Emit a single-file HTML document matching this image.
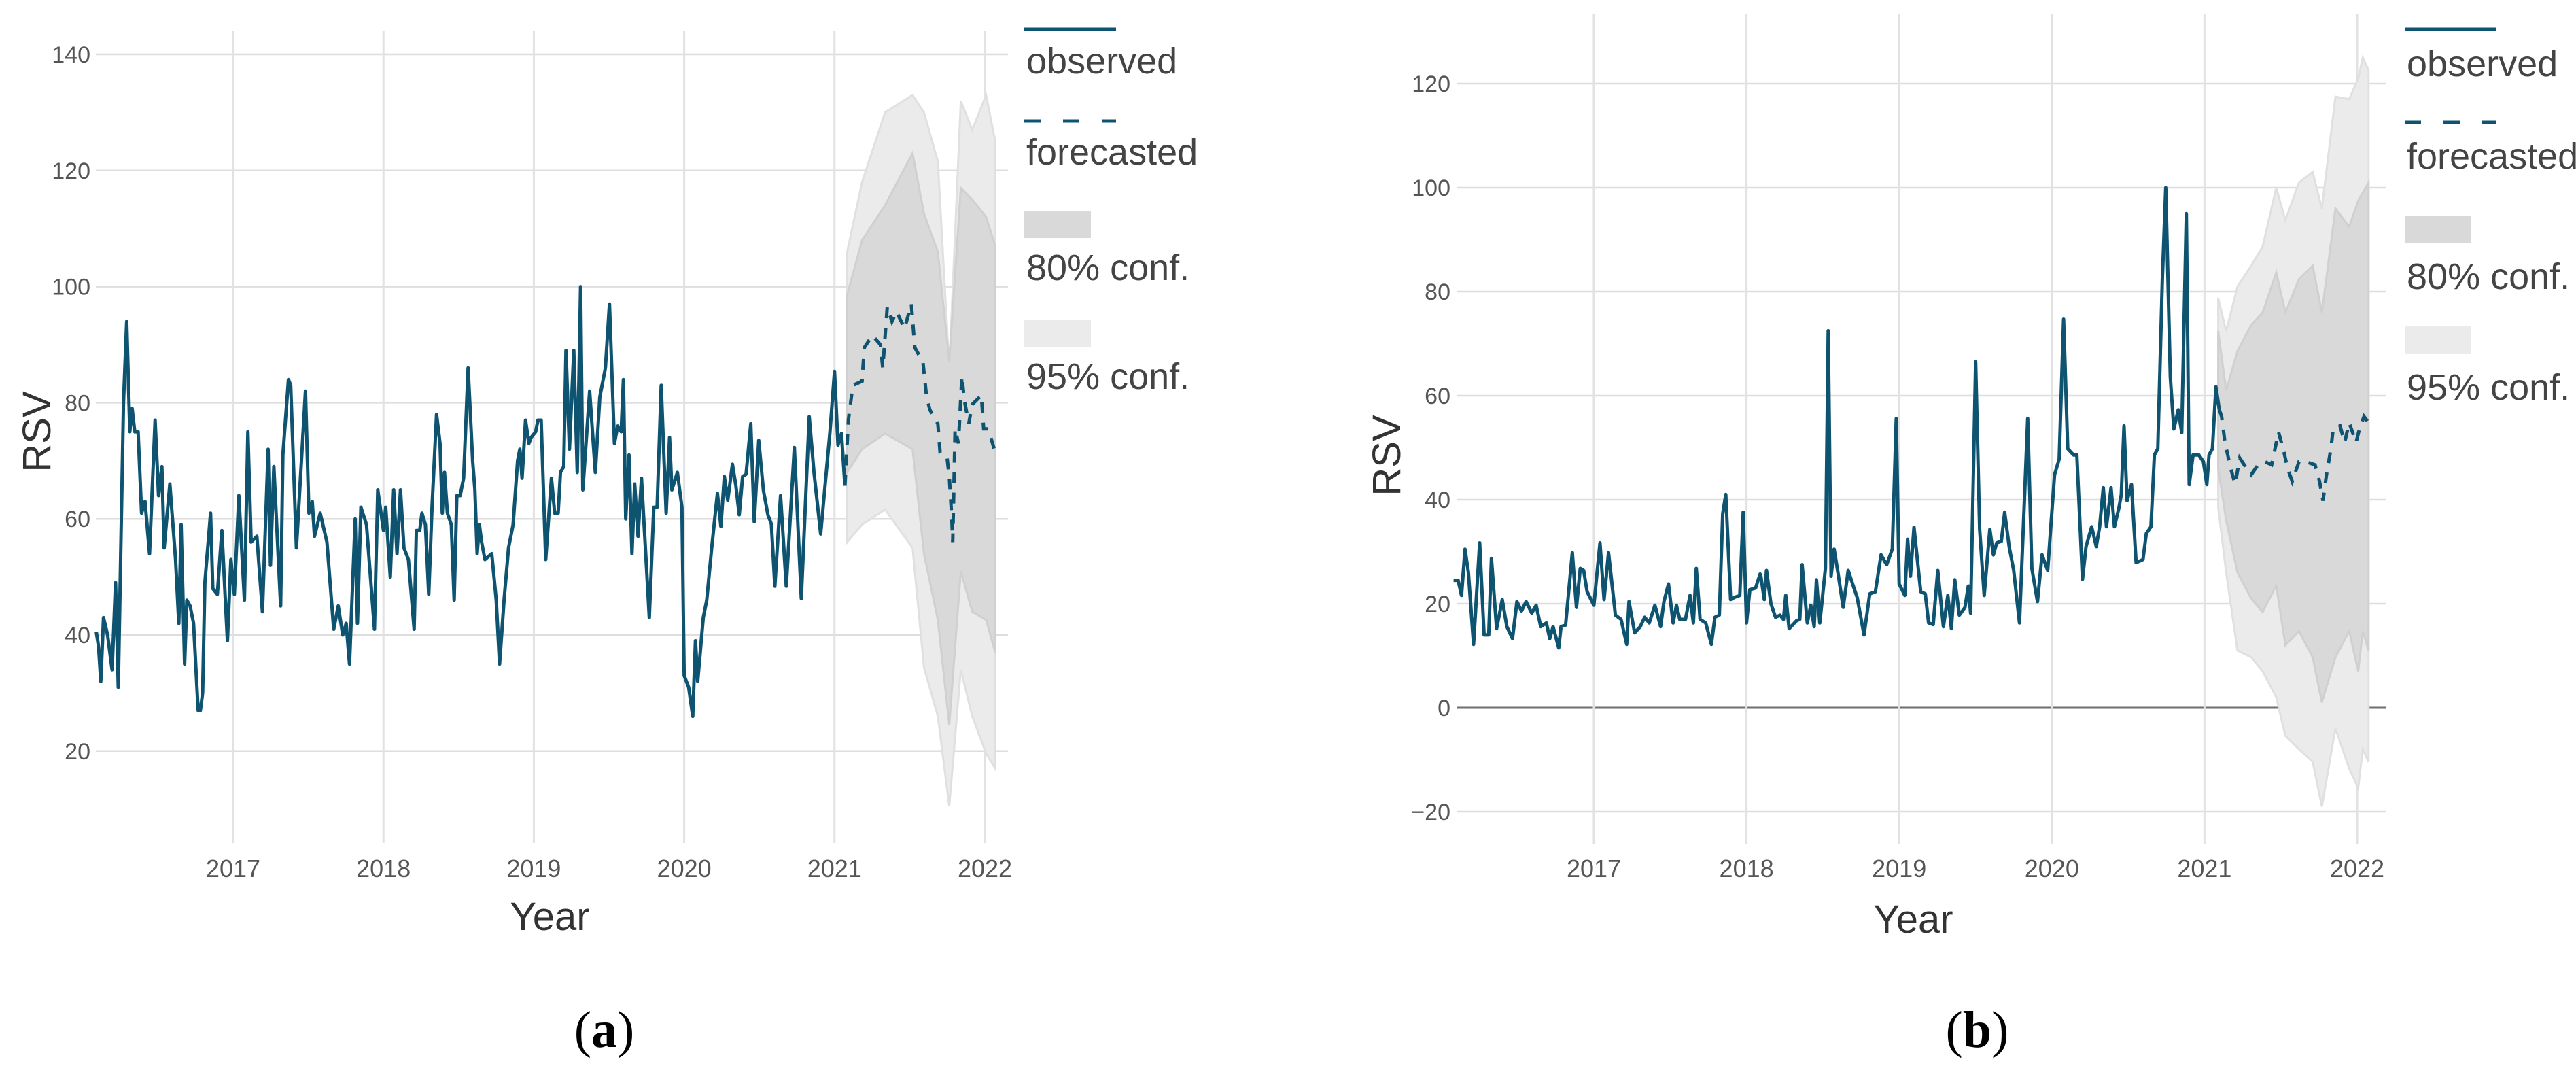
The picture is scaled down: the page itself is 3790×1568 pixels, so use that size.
<!DOCTYPE html>
<html><head><meta charset="utf-8">
<style>
html,body{margin:0;padding:0;background:#fff;}
svg{display:block;font-family:"Liberation Sans",sans-serif;}
</style></head>
<body>
<svg id="fig" width="3790" height="1568" viewBox="0 0 3790 1568" xmlns="http://www.w3.org/2000/svg">
<rect x="0" y="0" width="3790" height="1568" fill="#fff"/>
<g id="chartA"></g>
<g id="chartB"></g>
<text x="889" y="1540" text-anchor="middle" font-family="'Liberation Serif',serif" font-size="76" fill="#000">(<tspan font-weight="bold">a</tspan>)</text>
<text x="2909" y="1540" text-anchor="middle" font-family="'Liberation Serif',serif" font-size="76" fill="#000">(<tspan font-weight="bold">b</tspan>)</text>
</svg>
<script>
// ---------- Chart A data ----------
const obsAYears = [2016.090,2016.105,2016.120,2016.138,2016.165,2016.195,2016.218,2016.236,2016.271,2016.292,2016.313,2016.328,2016.346,2016.368,2016.391,2016.414,2016.444,2016.481,2016.504,2016.526,2016.541,2016.579,2016.617,2016.639,2016.654,2016.677,2016.692,2016.714,2016.737,2016.767,2016.782,2016.797,2016.812,2016.850,2016.865,2016.895,2016.925,2016.962,2016.985,2017.008,2017.038,2017.075,2017.098,2017.120,2017.158,2017.195,2017.233,2017.248,2017.271,2017.316,2017.331,2017.368,2017.383,2017.421,2017.481,2017.504,2017.526,2017.541,2017.579,2017.624,2017.669,2017.699,2017.729,2017.752,2017.774,2017.812,2017.827,2017.850,2017.887,2017.940,2017.962,2018.000,2018.015,2018.045,2018.068,2018.090,2018.113,
2018.136,2018.166,2018.204,2018.219,2018.241,2018.256,2018.279,2018.301,2018.323,2018.353,2018.376,2018.391,2018.406,2018.425,2018.451,2018.470,2018.488,2018.510,2018.533,2018.563,2018.593,2018.608,2018.623,2018.638,2018.653,2018.675,2018.720,2018.750,2018.772,2018.802,2018.832,2018.862,2018.892,2018.907,2018.922,2018.945,2018.967,2018.982,2019.012,2019.027,2019.049,2019.079,2019.117,2019.139,2019.162,2019.177,2019.199,2019.214,2019.237,2019.266,2019.289,2019.311,2019.326,2019.371,2019.409,2019.439,2019.476,2019.503,2019.536,2019.558,2019.581,2019.596,2019.611,2019.633,2019.653,2019.671,2019.693,2019.716,2019.768,2019.798,2019.820,2019.847,2019.865,2019.880,2019.903,2019.918,2019.955,2019.985,2020.000,2020.030,2020.057,2020.075,2020.090,2020.127,2020.150,
2020.183,2020.221,2020.244,2020.267,2020.290,2020.321,2020.344,2020.366,2020.389,2020.412,2020.443,2020.466,2020.496,2020.527,2020.557,2020.580,2020.603,2020.641,2020.679,2020.733,2020.779,2020.832,2020.863,2020.908,2020.969,2021.000,2021.023,2021.046,2021.069];
const obsAValues = [40.5,38,32,43,40,34,49,31,80,94,75,79,75,75,61,63,54,77,64,69,55,66,53,42,59,35,46,45,42,27,27,30,49,61,48,47,58,39,53,47,64,46,75,56,57,44,72,52,69,45,71,84,83,55,82,61,63,57,61,56,41,45,40,42,35,60,42,62,59,41,65,58,62,50,65,54,65,
55,53,41,58,58,61,59,47,62,78,73,61,68,61,59,46,64,64,67,86,70,65,54,59,56,53,54,46,35,46,55,59,70,72,67,77,73,74,75,77,77,53,67,61,61,68,69,89,72,89,68,100,65,82,68,81,86,97,73,76,75,84,60,71,54,66,57,67,43,62,62,83,71,61,74,65,68,62,33,31,26,39,32,43,46,
55,64.4,58.7,67.3,63.2,69.4,65.7,60.7,67.3,67.7,76.4,59.5,73.5,64.9,60.7,59.1,48.4,64,48.4,72.3,46.3,77.6,68.1,57.4,74.7,85.4,72.7,74.7,65.7];
const fcAYears = [2021.069,2021.092,2021.122,2021.183,2021.198,2021.252,2021.305,2021.321,2021.351,2021.382,2021.412,2021.466,2021.511,2021.534,2021.588,2021.611,2021.634,2021.687,2021.702,2021.748,2021.763,2021.779,2021.786,2021.802,2021.824,2021.847,2021.863,2021.893,2021.916,2021.977,2021.992,2022.023,2022.069];
const fcAValues = [65.7,77,83,83.7,89.5,91.6,90,86,96.5,94,95.7,92.8,97,89.5,87,81.3,78.8,76.4,71.4,70.6,67.3,60.7,56,75.5,73,84.6,80.5,76.4,79.7,81.3,75.5,75.5,71.4];
const bandAYears = [2021.084,2021.183,2021.336,2021.519,2021.595,2021.687,2021.763,2021.840,2021.916,2022.008,2022.069];
const up95A = [106,118,130,133,130,121.6,86,132,127,133,125];
const up80A = [98.6,108,114,123,112.6,106,87,117,115,112,107];
const lo80A = [68,72,74.7,72,54,42.6,24.5,51,44,42.6,37];
const lo95A = [56,59,61.6,55,34.4,26,10.5,34,26,19.6,17];
const yTicksA = [20,40,60,80,100,120,140];
const xTicksA = [2017,2018,2019,2020,2021,2022];

// ---------- Chart B data ----------
const obsBYears = [2016.081,2016.111,2016.133,2016.156,2016.178,2016.212,2016.252,2016.281,2016.311,2016.329,2016.363,2016.400,2016.430,2016.467,2016.496,2016.526,2016.556,2016.593,2016.622,2016.652,2016.689,2016.711,2016.733,2016.770,2016.785,2016.815,2016.859,2016.886,2016.911,2016.933,2016.956,2017.000,2017.040,2017.067,2017.096,2017.141,2017.178,2017.215,2017.230,2017.267,2017.304,2017.333,2017.363,2017.400,2017.437,2017.459,2017.489,2017.519,2017.541,2017.563,2017.600,2017.630,2017.652,2017.671,2017.696,2017.733,2017.770,2017.793,2017.822,2017.844,2017.864,2017.896,2017.919,2017.956,2017.978,2018.000,2018.022,2018.059,2018.089,
2018.094,2018.116,2018.131,2018.160,2018.190,2018.220,2018.242,2018.257,2018.279,2018.327,2018.349,2018.364,2018.398,2018.421,2018.443,2018.458,2018.480,2018.517,2018.535,2018.554,2018.574,2018.599,2018.633,2018.666,2018.695,2018.725,2018.770,2018.807,2018.844,2018.881,2018.918,2018.955,2018.981,2019.000,2019.037,2019.055,2019.074,2019.097,2019.141,2019.171,2019.193,2019.223,2019.253,2019.290,2019.319,2019.342,2019.364,2019.394,2019.431,2019.453,2019.468,2019.501,2019.527,2019.557,2019.594,2019.617,2019.639,2019.669,2019.691,2019.721,2019.750,2019.788,2019.842,2019.869,2019.906,2019.936,2019.973,2020.018,2020.048,2020.077,
2020.104,2020.142,2020.164,2020.201,2020.224,2020.261,2020.291,2020.313,2020.337,2020.358,2020.388,2020.410,2020.440,2020.455,2020.473,2020.493,2020.522,2020.552,2020.597,2020.619,2020.649,2020.672,2020.694,2020.724,2020.746,2020.776,2020.799,2020.828,2020.851,2020.881,2020.900,2020.925,2020.963,2020.993,2021.015,2021.030,2021.052,2021.075,2021.097];
const obsBValues = [24.5,24.5,21.6,30.5,26,12.2,31.7,14,14,28.7,15.2,20.8,15.6,13.3,20.4,18.6,20.4,18.2,19.7,15.6,16.3,13.3,15.6,11.5,15.6,15.9,29.8,19.3,26.8,26.4,22.3,19.7,31.7,20.8,29.8,17.8,17,12.2,20.4,14.4,15.6,17.4,16.3,19.7,15.6,20.4,23.8,16.3,19.7,17,17,21.6,16.3,26.8,17,16.3,12.2,17.4,17.8,37.3,41,20.8,21.2,21.6,37.6,16.3,22.7,23,25.7,
25.3,20.8,26.4,20,17.4,17.8,17,21.6,15.2,16.7,17,27.5,16.3,19.7,15.6,24.6,16.3,26.8,72.5,25.3,30.5,26,19.3,26.4,23.8,21.2,14,21.9,22.3,29.4,27.5,30.5,55.6,23.8,21.6,32.4,25.3,34.7,22.3,21.9,16.3,16,26.4,15.6,21.6,15.2,24.6,17.8,19.3,23.4,18.2,66.5,34.3,21.6,34.3,29.4,31.7,32,37.6,30.9,26.4,16.3,55.6,26.8,20.4,29.4,26.4,44.8,47.8,74.7,
49.8,48.6,48.6,24.7,31,34.8,31,34.8,42.3,34.8,42.3,34.8,38.5,41,54.2,39.8,42.9,27.9,28.5,33.5,34.8,48.6,49.8,82.4,100,63.6,53.6,57.3,52.9,95,42.9,48.6,48.6,47.3,42.9,48.6,49.8,61.7,57.3];
const fcBYears = [2021.097,2021.112,2021.134,2021.172,2021.201,2021.231,2021.276,2021.306,2021.351,2021.396,2021.440,2021.485,2021.515,2021.545,2021.575,2021.619,2021.664,2021.724,2021.754,2021.776,2021.799,2021.828,2021.843,2021.888,2021.918,2021.948,2021.993,2022.015,2022.045,2022.075];
const fcBValues = [57.3,56,51,46,43,48,46,44.8,46.7,47.3,46.7,53,49.8,46,43.5,47.3,47.3,46.7,43.5,39.8,44.8,49.8,53.6,54.2,51,54.8,51,53.6,56,54.8];
const bandBYears = [2021.090,2021.142,2021.216,2021.306,2021.381,2021.470,2021.530,2021.619,2021.709,2021.769,2021.858,2021.948,2022.007,2022.037,2022.075];
const up95B = [78.7,72.4,81,85,88.7,100,93.7,101,103,96,117.5,117,121,125,122.6];
const up80B = [72.4,61,68.6,73.6,76,83.7,76,82.4,85,76,96,92.5,97.5,99,101];
const lo80B = [46,36,26,21,18.4,23.5,12,14.7,9.7,1,9.7,14.7,7,14.7,11];
const lo95B = [38.5,26,11,9.7,7,2,-5.4,-8,-10.4,-19,-4,-11.7,-15.4,-8,-10.4];
const yTicksB = [-20,0,20,40,60,80,100,120];
const xTicksB = [2017,2018,2019,2020,2021,2022];

const NS = "http://www.w3.org/2000/svg";
const LINE = "#0e5470";
function mk(parent, tag, attrs, text){
  const e = document.createElementNS(NS, tag);
  for (const k in attrs) e.setAttribute(k, attrs[k]);
  if (text !== undefined) e.textContent = text;
  parent.appendChild(e);
  return e;
}
function pathFrom(xs, ys, xf, yf){
  return xs.map((x,i)=>(i?'L':'M')+xf(x).toFixed(1)+','+yf(ys[i]).toFixed(1)).join('');
}
function bandPath(xs, up, lo, xf, yf){
  let d = pathFrom(xs, up, xf, yf);
  for (let i = xs.length-1; i >= 0; i--) d += 'L'+xf(xs[i]).toFixed(1)+','+yf(lo[i]).toFixed(1);
  return d+'Z';
}

function drawChart(g, cfg){
  const {xf, yf, gx0, gx1, vy0, vy1, ylx, obsX, obsY, fcX, fcY, bX, u95, u80, l80, l95, yTicks, xTicks, zeroLine, leg, titleX, titleY, rsvX, rsvY} = cfg;
  // horizontal grid
  yTicks.forEach(v=>{
    const isZero = zeroLine && v === 0;
    const ln = mk(g,'line',{x1:gx0,x2:gx1,y1:yf(v),y2:yf(v),stroke:isZero?'#6e6e6e':'#dedede','stroke-width':isZero?3:2.5});
    
    
    const t = mk(g,'text',{x:ylx,y:yf(v)+12,'text-anchor':'end','font-size':34,fill:'#555'}, v<0?'\u2212'+(-v):String(v));
    
    
  });
  xTicks.forEach(yr=>{
    const ln = mk(g,'line',{x1:xf(yr),x2:xf(yr),y1:vy0,y2:vy1,stroke:'#e2e2e2','stroke-width':3});
    
    
    const t = mk(g,'text',{x:xf(yr),y:1290,'text-anchor':'middle','font-size':36,fill:'#555'}, String(yr));
    
    
  });
  const b95 = mk(g,'path',{d:bandPath(bX,u95,l95,xf,yf),fill:'#ebebeb',stroke:'#e0e0e0','stroke-width':3});
  
  
  const b80 = mk(g,'path',{d:bandPath(bX,u80,l80,xf,yf),fill:'#d9d9d9',stroke:'#d0d0d0','stroke-width':3});
  
  
  const ob = mk(g,'path',{d:pathFrom(obsX,obsY,xf,yf),fill:'none',stroke:LINE,'stroke-width':5,'stroke-linejoin':'round'});
  
  
  const fc = mk(g,'path',{d:pathFrom(fcX,fcY,xf,yf),fill:'none',stroke:LINE,'stroke-width':5,'stroke-dasharray':'16 14'});
  
  
  // axis titles
  const xt = mk(g,'text',{x:titleX,y:titleY,'text-anchor':'middle','font-size':58,fill:'#333'}, 'Year');
  
  
  const yt = mk(g,'text',{x:0,y:0,'text-anchor':'middle','font-size':58,fill:'#333',transform:`translate(${rsvX},${rsvY}) rotate(-90)`}, 'RSV');
  
  
  // legend
  const lg = mk(g,'g',{});
  
  
  const L = leg;
  const l1 = mk(lg,'line',{x1:L.x,x2:L.x+135,y1:L.y1,y2:L.y1,stroke:LINE,'stroke-width':5});
  
  
  const t1 = mk(lg,'text',{x:L.x+3,y:L.t1,'font-size':54,fill:'#444'}, 'observed');
  
  
  const l2 = mk(lg,'line',{x1:L.x,x2:L.x+135,y1:L.y2,y2:L.y2,stroke:LINE,'stroke-width':5,'stroke-dasharray':'24 33'});
  
  
  const t2 = mk(lg,'text',{x:L.x+3,y:L.t2,'font-size':54,fill:'#444'}, 'forecasted');
  
  
  const r3 = mk(lg,'rect',{x:L.x,y:L.r3,width:98,height:40,fill:'#d9d9d9'});
  
  
  const t3 = mk(lg,'text',{x:L.x+3,y:L.t3,'font-size':54,fill:'#444'}, '80% conf.');
  
  
  const r4 = mk(lg,'rect',{x:L.x,y:L.r4,width:98,height:40,fill:'#ebebeb'});
  
  
  const t4 = mk(lg,'text',{x:L.x+3,y:L.t4,'font-size':54,fill:'#444'}, '95% conf.');
  
  
}

drawChart(document.getElementById('chartA'), {
  xf: yr => 343 + (yr-2017)*221.2,
  yf: v => 80 + (140-v)*8.54,
  gx0:141, gx1:1483, vy0:45, vy1:1240, ylx:133,
  obsX:obsAYears, obsY:obsAValues, fcX:fcAYears, fcY:fcAValues,
  bX:bandAYears, u95:up95A, u80:up80A, l80:lo80A, l95:lo95A,
  yTicks:yTicksA, xTicks:xTicksA, zeroLine:false,
  leg:{x:1507,y1:43,t1:108,y2:178,t2:242,r3:310,t3:412,r4:470,t4:572},
  titleX:809, titleY:1368, rsvX:74, rsvY:635
});
drawChart(document.getElementById('chartB'), {
  xf: yr => 2345 + (yr-2017)*224.6,
  yf: v => 1041 - v*7.65,
  gx0:2143, gx1:3511, vy0:20, vy1:1242, ylx:2134,
  obsX:obsBYears, obsY:obsBValues, fcX:fcBYears, fcY:fcBValues,
  bX:bandBYears, u95:up95B, u80:up80B, l80:lo80B, l95:lo95B,
  yTicks:yTicksB, xTicks:xTicksB, zeroLine:true,
  leg:{x:3538,y1:43,t1:112,y2:180,t2:248,r3:318,t3:425,r4:480,t4:588},
  titleX:2815, titleY:1372, rsvX:2060, rsvY:670
});
</script>
</body></html>
